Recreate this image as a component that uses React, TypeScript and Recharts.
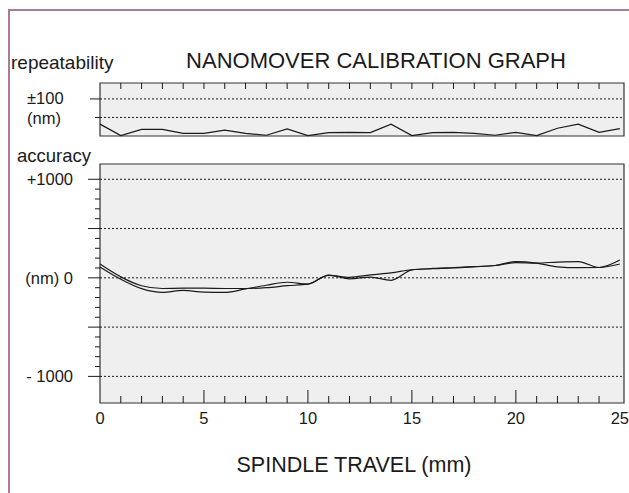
import React from "react";
import {
  LineChart,
  Line,
  XAxis,
  YAxis,
  CartesianGrid,
  ReferenceLine,
  ReferenceArea,
} from "recharts";

// spindle travel positions (mm)
const travel = [0, 1, 2, 3, 4, 5, 6, 7, 8, 9, 10, 11, 12, 13, 14, 15, 16, 17, 18, 19, 20, 21, 22, 23, 24, 25];

// repeatability (nm)
const repeatability = [32, 1, 18, 18, 7, 7, 16, 7, 2, 19, 1, 9, 10, 9, 32, 1, 9, 10, 7, 2, 10, 1, 21, 32, 10, 20];

// accuracy runs (nm)
const accuracyRun1 = [140, 10, -80, -108, -105, -105, -108, -108, -100, -80, -64, 25, 5, 30, 50, 82, 92, 100, 112, 125, 165, 150, 112, 103, 105, 180];
const accuracyRun2 = [110, -15, -110, -148, -128, -145, -148, -112, -75, -45, -64, 28, -10, 8, -25, 80, 95, 105, 115, 125, 155, 150, 160, 165, 105, 140];

const xTicks = [0, 1, 2, 3, 4, 5, 6, 7, 8, 9, 10, 11, 12, 13, 14, 15, 16, 17, 18, 19, 20, 21, 22, 23, 24, 25];
const repTicks = [50, 100];
const accTicks = [-1000, -900, -800, -700, -600, -500, -400, -300, -200, -100, 0, 100, 200, 300, 400, 500, 600, 700, 800, 900, 1000];
const accGrid = [-1000, -500, 0, 500, 1000];
const accLabels: Record<number, string> = { 1000: "+1000", 0: "(nm) 0", "-1000": "- 1000" };

const data = travel.map((t, i) => ({
  mm: t,
  rep: repeatability[i],
  a: accuracyRun1[i],
  b: accuracyRun2[i],
}));

const FONT = "'Liberation Sans', Arial, sans-serif";
const INK = "#1a1a1a";
const X_DOMAIN: [number, number] = [0, 25.2];

// top panel: ticks hang down from the top edge (axis height is 1px)
const TopXTick = ({ x, y, payload }: any) => {
  const v = payload.value;
  if (v === 0 || v === 25) return <g />;
  return <line x1={x} x2={x} y1={y} y2={y + 6} stroke={INK} />;
};

const BottomXTick = ({ x, y, payload }: any) => {
  const v = payload.value;
  const major = v % 5 === 0;
  return (
    <g>
      {v > 0 && v < 25 && (
        <line x1={x} x2={x} y1={y} y2={y - (major ? 13 : 7)} stroke={INK} />
      )}
      {major && (
        <text x={x} y={y + 21} textAnchor="middle" fontSize={16.5} fontFamily={FONT} fill={INK}>
          {v}
        </text>
      )}
    </g>
  );
};

const RepYTick = ({ x, y, payload }: any) => {
  const v = payload.value;
  const big = v === 100;
  return (
    <g>
      <line x1={x - (big ? 10 : 5)} x2={x} y1={y} y2={y} stroke={INK} />
      {big ? (
        <text x={27} y={y + 5} fontSize={16.5} fontFamily={FONT} fill={INK}>
          ±100
        </text>
      ) : (
        <text x={27} y={y + 6.5} fontSize={16.5} fontFamily={FONT} fill={INK}>
          (nm)
        </text>
      )}
    </g>
  );
};

const AccYTick = ({ x, y, payload }: any) => {
  const v = payload.value;
  const major = v % 500 === 0;
  const label = accLabels[v];
  return (
    <g>
      <line x1={x - (major ? 12 : 5)} x2={x} y1={y} y2={y} stroke={INK} />
      {label && (
        <text x={x - 27} y={y + 6} textAnchor="end" fontSize={16.5} fontFamily={FONT} fill={INK}>
          {label}
        </text>
      )}
    </g>
  );
};

const textStyle = (left: number, top: number, size: number, center = false): React.CSSProperties => ({
  position: "absolute",
  left,
  top,
  fontSize: size,
  lineHeight: 1,
  fontFamily: FONT,
  color: INK,
  whiteSpace: "nowrap",
  transform: center ? "translateX(-50%)" : undefined,
});

export default function App() {
  return (
    <div
      style={{
        position: "fixed",
        left: 0,
        top: 0,
        width: 629,
        height: 493,
        background: "#fff",
        overflow: "hidden",
      }}
    >
      {/* frame */}
      <div
        style={{
          position: "absolute",
          left: 8,
          top: 9,
          width: 640,
          height: 500,
          borderLeft: "2px solid #a57d96",
          borderTop: "2px solid #a57d96",
        }}
      />

      <div style={textStyle(376, 50, 22, true)}>NANOMOVER CALIBRATION GRAPH</div>
      <div style={textStyle(11, 53, 19)}>repeatability</div>
      <div style={textStyle(17, 147, 18.5)}>accuracy</div>
      <div style={textStyle(354, 455, 21.5, true)}>SPINDLE TRAVEL (mm)</div>

      {/* repeatability panel */}
      <div style={{ position: "absolute", left: 0, top: 0 }}>
        <LineChart
          width={629}
          height={140}
          data={data}
          margin={{ top: 82, right: 5, bottom: 4, left: 0 }}
        >
          <CartesianGrid horizontal={false} vertical={false} fill="#efefef" />
          <XAxis
            dataKey="mm"
            type="number"
            orientation="top"
            domain={X_DOMAIN}
            ticks={xTicks}
            interval={0}
            height={1}
            tickSize={0}
            tickMargin={0}
            axisLine={false}
            tickLine={false}
            tick={<TopXTick />}
          />
          <YAxis
            type="number"
            domain={[0, 143]}
            ticks={repTicks}
            interval={0}
            width={100}
            tickSize={0}
            tickMargin={0}
            axisLine={false}
            tickLine={false}
            tick={<RepYTick />}
          />
          {repTicks.map((v) => (
            <ReferenceLine key={v} y={v} stroke={INK} strokeDasharray="2 2" />
          ))}
          <ReferenceArea x1={0} x2={25.2} y1={0} y2={143} fill="none" stroke="#333" strokeWidth={1.2} />
          <Line
            dataKey="rep"
            type="linear"
            stroke={INK}
            strokeWidth={1.2}
            dot={false}
            isAnimationActive={false}
          />
        </LineChart>
      </div>

      {/* accuracy panel */}
      <div style={{ position: "absolute", left: 0, top: 140 }}>
        <LineChart
          width={629}
          height={353}
          data={data}
          margin={{ top: 24, right: 5, bottom: 89, left: 0 }}
        >
          <CartesianGrid horizontal={false} vertical={false} fill="#efefef" />
          <XAxis
            dataKey="mm"
            type="number"
            domain={X_DOMAIN}
            ticks={xTicks}
            interval={0}
            height={1}
            tickSize={0}
            tickMargin={0}
            axisLine={false}
            tickLine={false}
            tick={<BottomXTick />}
          />
          <YAxis
            type="number"
            domain={[-1270, 1155]}
            ticks={accTicks}
            interval={0}
            width={100}
            tickSize={0}
            tickMargin={0}
            axisLine={false}
            tickLine={false}
            tick={<AccYTick />}
          />
          {accGrid.map((v) => (
            <ReferenceLine key={v} y={v} stroke={INK} strokeDasharray="2 2" />
          ))}
          <ReferenceArea x1={0} x2={25.2} y1={-1270} y2={1155} fill="none" stroke="#333" strokeWidth={1.2} />
          <Line
            dataKey="a"
            type="monotone"
            stroke={INK}
            strokeWidth={1.2}
            dot={false}
            isAnimationActive={false}
          />
          <Line
            dataKey="b"
            type="monotone"
            stroke={INK}
            strokeWidth={1.2}
            dot={false}
            isAnimationActive={false}
          />
        </LineChart>
      </div>
    </div>
  );
}
